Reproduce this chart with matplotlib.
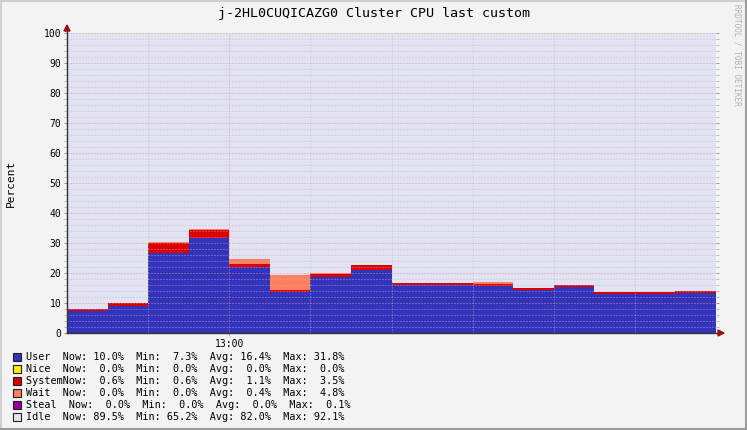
import numpy as np
import matplotlib
matplotlib.use("Agg")
import matplotlib.pyplot as plt
from matplotlib.lines import Line2D
from matplotlib.patches import Rectangle, Polygon

W, H = 747, 430

title = "j-2HL0CUQICAZG0 Cluster CPU last custom"
ylabel = "Percent"
watermark = "RRDTOOL / TOBI OETIKER"

# 5-minute samples starting at these times
times = ["12:40", "12:45", "12:50", "12:55", "13:00", "13:05", "13:10", "13:15",
         "13:20", "13:25", "13:30", "13:35", "13:40", "13:45", "13:50", "13:55"]
step_minutes = 5

user = [7.3, 9.1, 26.6, 31.8, 22.1, 13.6, 18.8, 21.0, 16.0, 16.0, 15.6, 14.3, 15.3, 13.1, 13.1, 13.4]
nice = [0.0] * 16
system = [0.6, 1.0, 3.5, 2.6, 0.9, 0.8, 0.8, 1.6, 0.7, 0.6, 0.7, 0.6, 0.7, 0.6, 0.6, 0.7]
wait = [0.0, 0.0, 0.2, 0.3, 1.8, 4.8, 0.3, 0.0, 0.0, 0.0, 0.7, 0.0, 0.0, 0.0, 0.0, 0.0]
steal = [0.0] * 16

series_names = ["User", "Nice", "System", "Wait", "Steal", "Idle"]
series_colors = ["#3333BB", "#FFEE00", "#DD0000", "#FF8060", "#990099", "#E2E2F2"]

now_vals = [10.0, 0.0, 0.6, 0.0, 0.0, 89.5]
min_vals = [7.3, 0.0, 0.6, 0.0, 0.0, 65.2]
avg_vals = [16.4, 0.0, 1.1, 0.4, 0.0, 82.0]
max_vals = [31.8, 0.0, 3.5, 4.8, 0.1, 92.1]

yticks = list(range(0, 101, 10))
xtick_labels = ["13:00"]

MONO = "DejaVu Sans Mono"
BG = "#F3F3F3"


def to_min(t, t0="12:40"):
    h, m = map(int, t.split(":"))
    h0, m0 = map(int, t0.split(":"))
    return (h * 60 + m) - (h0 * 60 + m0)


fig = plt.figure(figsize=(W / 100, H / 100), dpi=100, facecolor=BG)


def fx(x):
    return x / W


def fy(y):
    return 1 - y / H


ax = fig.add_axes([fx(67), fy(333), (716 - 67) / W, 300 / H])
ax.set_facecolor("white")

x = np.array([to_min(t) for t in times] + [to_min(times[-1]) + step_minutes], dtype=float)
layers = [user, nice, system, wait, steal]
base = np.zeros(len(times))
for vals, col in zip(layers, series_colors[:5]):
    v = np.array(vals, dtype=float)
    top = base + v
    ax.fill_between(x, np.append(base, base[-1]), np.append(top, top[-1]),
                    step="post", color=col, lw=0, zorder=2)
    base = top
ax.fill_between(x, np.append(base, base[-1]), 100, step="post",
                color=series_colors[5], lw=0, zorder=2)

ax.set_xlim(x[0], x[-1])
ax.set_ylim(0, 100)

# grid
lw = 0.72
for v in range(2, 101, 2):
    if v % 10 == 0:
        ax.axhline(v, color="#E09090", lw=lw, ls=(0, (1, 2)), alpha=0.85, zorder=3)
    else:
        ax.axhline(v, color="#B8B8C8", lw=lw, ls=(0, (1, 2)), alpha=0.75, zorder=3)
for m in range(10, 80, 10):
    if to_min("13:00") == m:
        ax.axvline(m, color="#E09090", lw=lw, ls=(0, (1, 2)), alpha=0.85, zorder=3)
    else:
        ax.axvline(m, color="#B8B8C8", lw=lw, ls=(0, (1, 2)), alpha=0.75, zorder=3)

for s in ax.spines.values():
    s.set_visible(False)

ax.set_yticks(yticks)
ax.set_yticklabels([str(t) for t in yticks], fontfamily=MONO, fontsize=7)
ax.set_yticks(range(0, 101, 2), minor=True)
ax.tick_params(axis="y", which="major", length=2.5, width=0.72, color="#999999",
               pad=1.5, left=True, right=True, direction="out", labelcolor="black")
ax.tick_params(axis="y", which="minor", length=2.0, width=0.72, color="#BBBBBB",
               left=True, right=True, direction="out")
ax.set_xticks([to_min(t) for t in xtick_labels])
ax.set_xticklabels(xtick_labels, fontfamily=MONO, fontsize=7)
ax.tick_params(axis="x", length=2, width=0.72, color="#E09090", pad=2)

# axis lines and arrows (figure pixel coordinates)
fig.add_artist(Line2D([fx(67), fx(720)], [fy(333), fy(333)], color="#333333", lw=1.0,
                      transform=fig.transFigure, zorder=5))
fig.add_artist(Line2D([fx(67), fx(67)], [fy(333), fy(29)], color="#333333", lw=1.0,
                      transform=fig.transFigure, zorder=5))
arrow_col = "#991111"
fig.add_artist(Polygon([[fx(64), fy(31)], [fx(70), fy(31)], [fx(67), fy(25)]],
                       closed=True, color=arrow_col, transform=fig.transFigure, zorder=6))
fig.add_artist(Polygon([[fx(718), fy(330)], [fx(718), fy(336)], [fx(724), fy(333)]],
                       closed=True, color=arrow_col, transform=fig.transFigure, zorder=6))

# title and labels
fig.text(0.5, fy(14), title, ha="center", va="center", fontfamily=MONO, fontsize=9.6)
fig.text(fx(11), fy(183), ylabel, ha="center", va="center", rotation=90,
         fontfamily=MONO, fontsize=8)
fig.text(fx(737), fy(4), watermark, ha="center", va="top", rotation=270,
         fontfamily=MONO, fontsize=5.6, color="#B0B0B0")

# legend
for i, name in enumerate(series_names):
    yc = 357 + 12 * i
    fig.add_artist(Rectangle((fx(13), fy(yc + 4)), 8 / W, 8 / H, facecolor=series_colors[i],
                             edgecolor="#222222", lw=0.8, transform=fig.transFigure))
    label = name.ljust(6) if len(name) != 5 else name + "  "
    line = "%sNow:%5.1f%%  Min:%5.1f%%  Avg:%5.1f%%  Max:%5.1f%%" % (
        label, now_vals[i], min_vals[i], avg_vals[i], max_vals[i])
    fig.text(fx(26), fy(yc), line, ha="left", va="center", fontfamily=MONO, fontsize=7.3)

# frame border
fig.add_artist(Line2D([0, 1], [fy(0.5), fy(0.5)], color="#CFCFCF", lw=1.5, transform=fig.transFigure))
fig.add_artist(Line2D([fx(0.5), fx(0.5)], [0, 1], color="#CFCFCF", lw=1.5, transform=fig.transFigure))
fig.add_artist(Line2D([fx(746), fx(746)], [0, 1], color="#9A9A9A", lw=1.5, transform=fig.transFigure))
fig.add_artist(Line2D([0, 1], [fy(429), fy(429)], color="#9A9A9A", lw=1.5, transform=fig.transFigure))

fig.savefig("out.png", dpi=100, facecolor=BG)
